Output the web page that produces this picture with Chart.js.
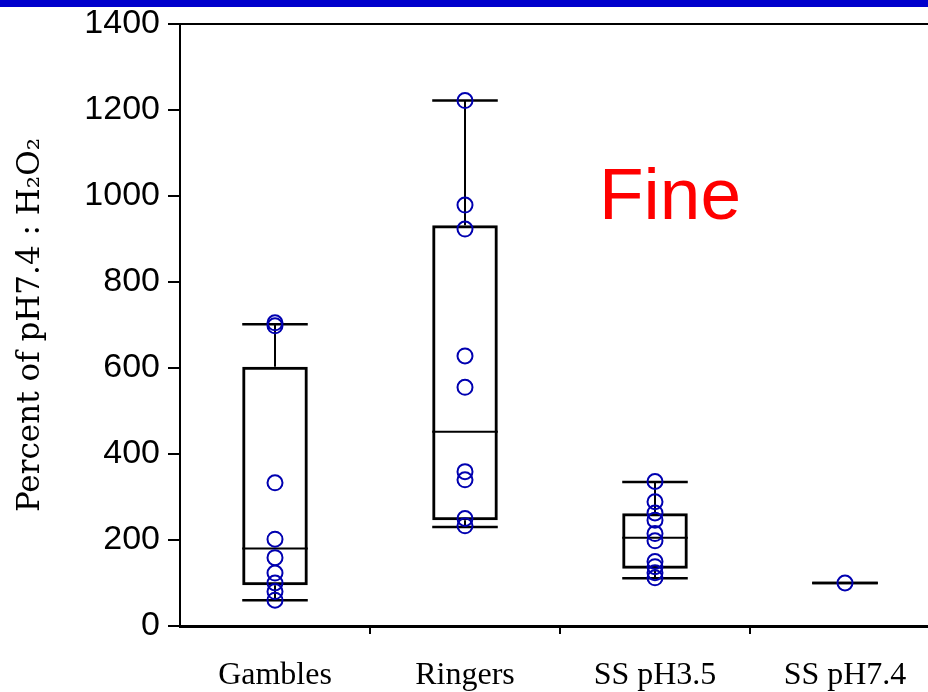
<!DOCTYPE html>
<html>
<head>
<meta charset="utf-8">
<script src="https://cdn.jsdelivr.net/npm/chart.js@4/dist/chart.umd.min.js"></script>
<style>
  html, body { margin: 0; padding: 0; background: #fff; overflow: hidden; width: 928px; height: 692px; }
  #wrap { position: relative; width: 950px; height: 692px; }
</style>
</head>
<body>
<div id="wrap"><canvas id="chart"></canvas></div>
<script>
// Groups on the x axis
const categories = ['Gambles', 'Ringers', 'SS pH3.5', 'SS pH7.4'];

// Box-plot summary per group (null = no box drawn)
const whiskerLow  = [60, 230, 111, 100];
const quartile1   = [95, 246, 133, null];
const medians     = [180, 452, 205, 100];
const quartile3   = [603, 932, 262, null];
const whiskerHigh = [702, 1222, 335, 100];

// Individual measurements per group
const gamblesValues = [705, 698, 333, 202, 159, 123, 100, 80, 60];
const ringersValues = [1222, 979, 923, 628, 555, 359, 340, 250, 233];
const ssPH35Values  = [336, 289, 263, 246, 215, 198, 150, 138, 124, 112];
const ssPH74Values  = [100];
const groupValues = [gamblesValues, ringersValues, ssPH35Values, ssPH74Values];

// Y axis range
const yMin = 0, yMax = 1400, yStep = 200;

const BOX_FRACTION = 0.345;

const pointData = [];
groupValues.forEach((vals, i) => vals.forEach(v => pointData.push({ x: categories[i], y: v })));

const boxData = categories.map((c, i) => quartile1[i] == null ? null : [quartile1[i], quartile3[i]]);

// Whiskers, caps and medians drawn right after the boxes
const whiskerPlugin = {
  id: 'whiskers',
  afterDatasetDraw(chart, args) {
    if (args.index !== 0) return;
    const { ctx, scales: { x, y } } = chart;
    const half = (x.getPixelForValue(1) - x.getPixelForValue(0)) * BOX_FRACTION / 2;
    const seg = (x1, y1, x2, y2, w) => {
      ctx.lineWidth = w;
      ctx.beginPath(); ctx.moveTo(x1, y1); ctx.lineTo(x2, y2); ctx.stroke();
    };
    ctx.save();
    ctx.strokeStyle = '#000';
    categories.forEach((c, i) => {
      const cx = x.getPixelForValue(i);
      const yLo = y.getPixelForValue(whiskerLow[i]);
      const yHi = y.getPixelForValue(whiskerHigh[i]);
      if (quartile3[i] != null) {
        seg(cx, y.getPixelForValue(quartile3[i]), cx, yHi, 2);
        seg(cx, y.getPixelForValue(quartile1[i]), cx, yLo, 2);
        const ym = y.getPixelForValue(medians[i]);
        seg(cx - half, ym, cx + half, ym, 2);
      }
      seg(cx - half, yHi, cx + half, yHi, 2.5);
      seg(cx - half, yLo, cx + half, yLo, 2.5);
    });
    ctx.restore();
  }
};

// Header band and the "Fine" annotation
const decorPlugin = {
  id: 'decor',
  beforeDraw(chart) {
    const { ctx } = chart;
    ctx.save();
    ctx.fillStyle = '#fff';
    ctx.fillRect(0, 0, chart.width, chart.height);
    ctx.fillStyle = '#0000cc';
    ctx.fillRect(0, 0, chart.width, 7);
    ctx.restore();
  },
  afterDraw(chart) {
    const { ctx } = chart;
    ctx.save();
    ctx.fillStyle = '#ff0000';
    ctx.font = '73px "Liberation Sans", Arial, sans-serif';
    ctx.textBaseline = 'alphabetic';
    ctx.textAlign = 'left';
    ctx.fillText('Fine', 599, 219);
    ctx.restore();
  }
};

new Chart(document.getElementById('chart'), {
  type: 'bar',
  data: {
    labels: categories,
    datasets: [
      {
        type: 'bar',
        data: boxData,
        order: 1,
        backgroundColor: 'transparent',
        borderColor: '#000',
        borderWidth: 3,
        borderSkipped: false,
        categoryPercentage: 1,
        barPercentage: BOX_FRACTION
      },
      {
        type: 'line',
        data: pointData,
        order: 0,
        showLine: false,
        pointStyle: 'circle',
        pointRadius: 7.5,
        pointBorderWidth: 2,
        pointBorderColor: '#0000b0',
        pointBackgroundColor: 'transparent'
      }
    ]
  },
  options: {
    responsive: true,
    maintainAspectRatio: false,
    animation: false,
    events: [],
    layout: { padding: { top: 24, right: 10, bottom: 0, left: 0 } },
    plugins: { legend: { display: false }, tooltip: { enabled: false }, title: { display: false } },
    scales: {
      x: {
        type: 'category',
        position: 'bottom',
        offset: true,
        afterFit: s => { s.height = 66; s.paddingLeft = 0; s.paddingRight = 0; },
        border: { display: true, color: '#000', width: 3 },
        grid: {
          offset: true,
          drawOnChartArea: false,
          drawTicks: true,
          tickLength: 8,
          lineWidth: 2,
          color: ctx => (ctx.index === 0 ? 'rgba(0,0,0,0)' : '#000')
        },
        ticks: {
          color: '#000',
          padding: 22,
          maxRotation: 0,
          font: { family: '"Liberation Serif", "Times New Roman", serif', size: 32 }
        }
      },
      x2: {
        type: 'category',
        position: 'top',
        afterFit: s => { s.height = 0; s.paddingLeft = 0; s.paddingRight = 0; },
        border: { display: true, color: '#000', width: 2 },
        grid: { drawOnChartArea: false, drawTicks: false },
        ticks: { display: false }
      },
      y: {
        min: yMin,
        max: yMax,
        afterFit: s => { s.width = 180; s.paddingTop = 0; s.paddingBottom = 0; },
        border: { display: true, color: '#000', width: 2 },
        grid: { drawOnChartArea: false, drawTicks: true, tickLength: 12, lineWidth: 2, color: '#000' },
        ticks: {
          stepSize: yStep,
          color: '#000',
          padding: 8,
          callback: v => String(v),
          font: { family: '"Liberation Sans", Arial, sans-serif', size: 34 }
        },
        title: {
          display: true,
          text: 'Percent of pH7.4 : H\u2082O\u2082',
          color: '#000',
          padding: { top: 12, bottom: 0 },
          font: { family: '"DejaVu Serif", "Liberation Serif", serif', size: 31 }
        }
      }
    }
  },
  plugins: [whiskerPlugin, decorPlugin]
});
</script>
</body>
</html>
